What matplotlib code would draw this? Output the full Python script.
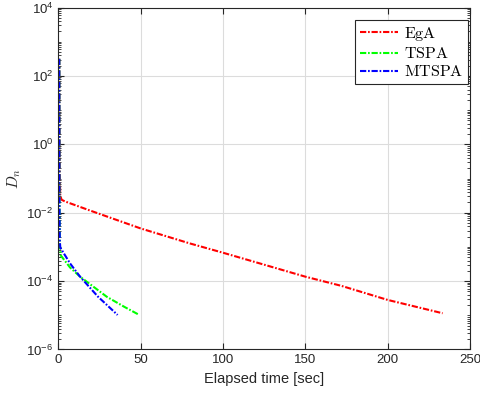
import numpy as np
import matplotlib
matplotlib.use('Agg')
import matplotlib.pyplot as plt
from matplotlib.ticker import FixedLocator, LogLocator, NullFormatter

plt.rcParams['font.family'] = ['Liberation Sans', 'DejaVu Sans']
plt.rcParams['mathtext.fontset'] = 'cm'
plt.rcParams['lines.scale_dashes'] = False

# values (time in sec, log10 of D_n)
ega_t   = [0.6, 0.7, 0.9, 1.2, 2.0, 4.0, 18.9, 50, 80, 100, 150, 172, 200, 233.4]
ega_log = [2.5, 0.8, -0.9, -1.5, -1.62, -1.67, -1.93, -2.46, -2.9, -3.17, -3.87, -4.14, -4.55, -4.94]

tspa_t   = [0.6, 0.65, 0.7, 0.9, 1.5, 7.1, 13.2, 29.5, 40, 49.2]
tspa_log = [2.5, 0.5, -1.5, -2.9, -3.25, -3.6, -3.87, -4.46, -4.75, -4.99]

mtspa_t   = [0.6, 0.65, 0.7, 0.9, 1.2, 7.1, 13.2, 24, 36]
mtspa_log = [2.5, 0.5, -1.5, -2.8, -3.02, -3.48, -3.87, -4.45, -4.99]

dash = (0, (4.5, 1.3, 1.2, 1.3))

fig = plt.figure(figsize=(4.81, 3.95), dpi=100)
ax = fig.add_axes([0.1212, 0.1152, 0.8558, 0.8658])

ax.semilogy(ega_t, 10.0 ** np.array(ega_log), ls=dash, color='red', lw=1.5, label=r'$\mathrm{EgA}$')
ax.semilogy(tspa_t, 10.0 ** np.array(tspa_log), ls=dash, color='lime', lw=1.5, label=r'$\mathrm{TSPA}$')
ax.semilogy(mtspa_t, 10.0 ** np.array(mtspa_log), ls=dash, color='blue', lw=1.5, label=r'$\mathrm{MTSPA}$')

ax.set_xlim(0, 250)
ax.set_ylim(1e-6, 1e4)
ax.set_xticks([0, 50, 100, 150, 200, 250])
ax.yaxis.set_major_locator(FixedLocator([1e-6, 1e-4, 1e-2, 1e0, 1e2, 1e4]))
ax.yaxis.set_minor_locator(LogLocator(base=10, subs=np.arange(1, 10), numticks=50))
ax.yaxis.set_minor_formatter(NullFormatter())

ax.grid(True, which='major', color='#dcdcdc', lw=0.8)
ax.tick_params(which='both', direction='in', top=True, right=True, colors='#262626', labelsize=9.5)
ax.tick_params(which='major', length=4)
ax.tick_params(which='minor', length=2)
for s in ax.spines.values():
    s.set_color('#262626')

ax.set_xlabel('Elapsed time [sec]', fontsize=10.5, color='#262626')
ax.set_ylabel(r'$D_n$', fontsize=11, color='#262626', labelpad=2)

leg = ax.legend(loc='upper right', bbox_to_anchor=(0.995, 0.963), fontsize=11.5,
                handlelength=2.4, handletextpad=0.35, labelspacing=0.2, borderpad=0.3,
                fancybox=False, framealpha=1, edgecolor='#262626', borderaxespad=0)
leg.get_frame().set_linewidth(0.8)

fig.savefig('out.png', dpi=100)
